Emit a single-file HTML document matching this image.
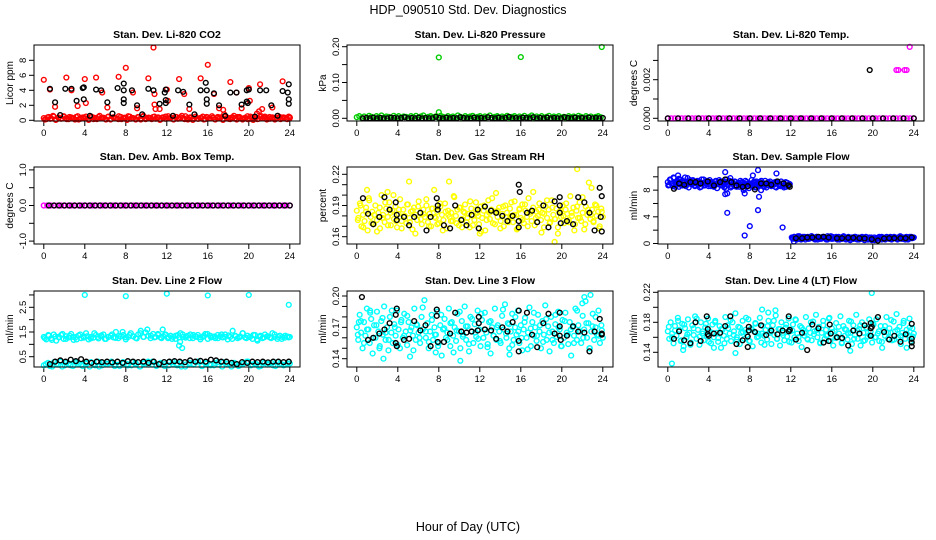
<!DOCTYPE html>
<html><head><meta charset="utf-8"><style>
html,body{margin:0;padding:0;background:#fff}
svg{display:block;font-family:"Liberation Sans",sans-serif}
</style></head><body>
<svg id="chart" width="936" height="540" viewBox="0 0 936 540" xmlns="http://www.w3.org/2000/svg">
<text x="468" y="14" font-size="12.5" text-anchor="middle">HDP_090510  Std. Dev. Diagnostics</text>
<text x="468" y="531" font-size="12.5" text-anchor="middle">Hour of Day (UTC)</text>
</svg>
<script>
// ---------- data ----------
const xTicks=[0,4,8,12,16,20,24];
const co2RedBand=[.3,.15,.45,.25,.5,.1,.35,.2,.55,.3,.15,.4,.25,.45,.1,.35,.3,.5,.2,.4,.15,.3,.45,.25,.35,.1,.5,.2,.4,.3,.15,.45,.25,.35,.55,.2,.3,.1,.4,.25,.5,.15,.35,.3,.45,.2,.4,.1,.3,.5,.25,.35,.15,.45,.2,.4,.3,.55,.1,.35,.25,.45,.2,.3,.5,.15,.4,.25,.35,.1,.45,.3,.2,.5,.35,.15,.4,.25,.45,.3,.1,.35,.55,.2,.4,.3,.15,.45,.25,.5,.35,.2,.4,.1,.3,.45,.25,.35,.15,.4];
const co2RedBand2=[.1,.4,.2,.6,.05,.35,.25,.5,.15,.45,.3,.1,.55,.2,.4,.25,.05,.5,.35,.15,.6,.3,.2,.45,.1,.4,.25,.55,.15,.35,.05,.5,.3,.2,.45,.1,.6,.25,.35,.15,.5,.3,.05,.4,.2,.55,.35,.1,.45,.25,.6,.15,.3,.4,.05,.5,.2,.35,.1,.45,.25,.55,.15,.3,.4,.05,.5,.2,.35,.6,.1,.45,.25,.3,.15,.5,.05,.4,.2,.55,.35,.1,.45,.25,.3,.6,.15,.4,.2,.5];
const co2RedHours=[0,0.6,1.1,2.2,2.7,3.3,4.0,4.1,5.1,5.7,6.2,7.3,8.0,8.7,9.1,10.2,10.7,10.8,10.8,10.9,11.3,12.0,12.1,13.2,13.7,14.2,15.3,16.0,16.6,17.1,17.5,17.6,18.2,18.8,19.3,20.0,20.1,21.1,21.3,21.0,20.8,22.3,23.3,24];
const co2RedVals=[5.4,4.1,1.8,5.7,4.0,1.9,5.5,2.3,5.7,3.7,1.7,5.8,7.0,3.7,1.6,5.6,9.7,3.5,2.1,1.5,1.5,4.1,2.6,5.5,3.5,1.5,5.6,7.4,3.5,1.6,1.4,0.8,5.1,3.7,1.6,4.3,2.6,4.8,1.5,1.2,0.9,1.7,5.2,0.3];
const co2BlackHours=[0.6,1.1,1.6,2.1,2.7,3.2,3.8,3.9,3.9,4.5,5.1,5.6,6.2,6.7,7.2,7.8,7.8,7.8,7.8,8.6,9.1,9.6,10.2,10.7,11.3,11.8,11.9,11.9,11.9,12.6,13.1,13.6,14.2,14.7,15.3,15.8,15.9,15.9,15.9,16.6,17.1,17.7,18.2,18.8,19.3,19.8,19.8,19.9,20.0,20.6,21.1,21.7,22.2,22.8,23.3,23.8,23.9,23.9,23.9];
const co2BlackVals=[4.2,2.4,0.7,4.2,4.2,2.6,4.3,2.8,4.4,0.6,4.1,4.0,2.4,0.9,4.3,4.0,4.9,2.8,2.3,4.0,2.0,0.8,4.2,4.0,2.2,3.7,2.7,2.3,4.1,0.6,4.0,3.8,2.1,0.8,4.0,5.0,2.8,2.2,4.0,3.6,2.0,0.6,3.7,3.7,2.1,4.0,2.5,2.3,4.1,0.5,4.0,4.0,2.0,0.6,3.9,3.7,4.8,2.8,2.2];
const presGreenBand=[.003,.006,.001,.005,.002,.007,.004,.001,.006,.003,.008,.002,.005,.004,.001,.007,.003,.006,.002,.005,.004,.001,.006,.003,.007,.002,.005,.008,.001,.004,.006,.003,.005,.002,.007,.004,.001,.006,.003,.005,.002,.008,.004,.001,.006,.003,.005,.007,.002,.004,.006,.001,.005,.003,.008,.002,.004,.006,.001,.005,.003,.007,.002,.004,.006,.001,.005,.003,.007,.002,.004,.008,.001,.005,.003,.006,.002,.004,.007,.001,.005,.003,.006,.002,.004,.001,.006,.003,.005,.002,.007,.004,.001,.006,.003,.005,.002,.004,.006,.003];
const presGreenHours=[8.0,8.0,16.0,23.9];
const presGreenVals=[0.170,0.017,0.171,0.199];
const presBlack=[.000,.001,.000,.002,.000,.001,.000,.000,.002,.001,.000,.001,.003,.000,.001,.000,.002,.000,.001,.000,.000,.004,.001,.000,.002,.000,.001,.000,.003,.001,.000,.000,.002,.000,.001,.000,.003,.001,.000,.002,.000,.001,.004,.000,.001,.000,.002,.001,.000,.003,.000,.001,.000,.002,.000,.001,.000,.000,.003,.001,.000,.002,.000,.001,.000,.002,.000,.001,.000,.001];
const tempMagenta=[0,0,0,0,0,0,0,0,0,0,0,0,0,0,0,0,0,0,0,0,0,0,0,0,0,0,0,0,0,0,0,0,0,0,0,0,0,0,0,0,0,0,0,0,0,0,0,0,0,0,0,0,0,0,0,0,0,0,0,0,0,0,0,0,0,0,0,0,0,0,0,0];
const tempBlack=[0,0,0,0,0,0,0,0,0,0,0,0,0,0,0,0,0,0,0,0,0,0,0,0,0];
const tempMagHours=[22.3,22.5,23.1,23.3,23.6];
const tempMagVals=[0.0025,0.0025,0.0025,0.0025,0.0037];
const tempBlackHours=[19.7];
const tempBlackVals=[0.0025];
const ambMagenta=[0,0,0,0,0,0,0,0,0,0,0,0,0,0,0,0,0,0,0,0,0,0,0,0,0,0,0,0,0,0,0,0,0,0,0,0,0,0,0,0,0,0,0,0,0,0,0,0,0,0,0,0,0,0,0,0,0,0,0,0,0,0,0,0,0,0,0,0,0,0,0,0];
const ambBlack=[0,0,0,0,0,0,0,0,0,0,0,0,0,0,0,0,0,0,0,0,0,0,0,0,0,0,0,0,0,0,0,0,0,0,0,0,0,0,0,0,0,0,0,0,0,0,0,0];
const rhYellow=[.185,.178,.192,.170,.181,.175,.188,.166,.195,.179,.184,.172,.190,.176,.183,.168,.200,.181,.174,.187,.179,.193,.171,.185,.177,.189,.169,.182,.196,.175,.186,.180,.173,.191,.178,.184,.167,.188,.181,.176,.194,.183,.172,.186,.179,.190,.174,.182,.170,.187,.205,.178,.184,.173,.189,.181,.176,.192,.168,.185,.179,.183,.175,.198,.180,.186,.171,.188,.177,.184,.191,.174,.182,.169,.187,.180,.176,.193,.183,.172,.189,.178,.185,.166,.181,.195,.177,.186,.173,.184,.202,.179,.188,.175,.182,.170,.190,.183,.176,.187,.180,.174,.194,.181,.168,.186,.178,.191,.173,.185,.179,.197,.182,.175,.188,.171,.184,.180,.192,.176,.183,.169,.189,.178,.186,.174,.195,.181,.177,.187,.163,.184,.179,.190,.173,.186,.182,.176,.199,.180,.188,.172,.185,.178,.193,.175,.183,.167,.189,.181,.212,.177,.186,.174,.191,.180,.184,.170,.187,.179];
const rhYellow2=[.176,.190,.169,.184,.197,.173,.181,.165,.188,.178,.193,.171,.183,.200,.175,.186,.168,.180,.191,.174,.185,.163,.189,.177,.182,.196,.170,.187,.179,.172,.192,.166,.184,.181,.175,.199,.173,.188,.169,.183,.178,.194,.171,.186,.180,.165,.190,.176,.183,.197,.172,.185,.168,.189,.179,.174,.193,.181,.167,.187,.176,.191,.170,.184,.203,.178,.186,.164,.182,.195,.173,.188,.177,.169,.185,.180,.192,.174,.183,.166,.189,.178,.198,.172,.186,.181,.175,.190,.168,.184];
const rhYellowHours=[1.0,3.0,5.1,9.0,19.3,21.5,22.9,12.0];
const rhYellowVals=[.205,.203,.213,.213,.155,.225,.207,.163];
const rhBlackHours=[0.6,1.1,1.6,2.2,2.7,3.2,3.8,3.9,3.9,4.6,5.1,5.6,6.2,6.8,7.2,7.8,7.9,7.9,8.5,9.1,9.6,10.2,10.7,11.2,11.8,11.9,12.5,13.1,13.6,14.2,14.7,15.2,15.8,15.9,15.8,15.8,16.6,17.1,17.6,18.2,18.7,19.3,19.8,19.8,19.8,19.9,20.5,21.1,21.6,22.2,22.7,23.2,23.7,23.9,23.8,23.9];
const rhBlackVals=[.197,.182,.172,.179,.198,.186,.193,.181,.176,.179,.171,.179,.183,.166,.179,.197,.190,.186,.171,.168,.190,.176,.171,.181,.186,.168,.189,.185,.183,.180,.175,.180,.210,.203,.175,.169,.183,.185,.174,.190,.169,.194,.198,.190,.183,.173,.175,.172,.198,.193,.183,.166,.207,.199,.179,.165];
const flowBlueA=[9.2,8.8,9.5,9.0,8.6,9.8,9.1,8.9,9.4,8.5,9.6,9.0,8.7,9.3,9.9,8.8,9.2,8.4,9.5,9.1,8.9,9.3,8.6,9.0,9.4,8.8,9.2,8.5,9.1,9.6,8.7,9.0,9.3,8.9,9.5,8.6,9.2,8.8,9.0,9.4,8.3,9.1,8.9,9.3,8.7,9.2,8.5,9.0,9.6,8.8,9.1,8.4,9.3,8.9,8.6,9.2,8.7,9.0,8.5,9.4,8.8,9.1,8.3,8.9,9.2,8.6,9.0,8.7,9.5,8.8,9.1,8.4,9.3,8.9,8.6,9.2,8.8,9.0,8.5,9.4,8.7,9.1,8.9,9.3,8.6,9.0,8.8,9.2,8.4,9.1,8.9,8.7,9.3,8.6,9.0,8.8,8.5,9.1,8.7,8.9];
const flowBlueA2=[8.7,9.6,9.0,9.9,8.5,9.3,9.7,8.8,9.4,9.1,8.6,9.8,9.2,8.9,9.5,8.7,9.3,9.0,8.4,9.6,9.1,8.8,9.4,8.6,9.2,9.0,8.5,9.3,8.9,9.5,8.7,9.1,8.4,9.2,8.8,9.4,8.6,9.0,9.3,8.5,9.1,8.8,9.2,8.6,9.4,8.9,8.3,9.0,8.7,9.3,8.5,9.1,8.8,9.4,8.6,9.0,8.4,9.2,8.9,8.7,9.1,8.5,9.3,8.8,8.6,9.0,8.4,9.2,8.7,8.9];
const flowBlueB=[.9,.7,1.0,.8,.6,1.1,.8,.9,.7,1.0,.8,.6,.9,1.0,.7,.8,1.1,.9,.7,.8,1.0,.6,.9,.8,.7,1.0,.9,.8,.6,1.1,.8,.9,.7,1.0,.8,.9,.7,.6,1.0,.8,.9,.7,1.1,.8,.6,.9,1.0,.7,.8,.9,.7,1.0,.8,.6,.9,.8,.7,1.0,.9,.5,.8,.7,.6,.9,.8,.5,.7,.9,.6,.8,.7,1.0,.8,.6,.9,.7,.8,1.0,.9,.7,.8,.6,.9,1.0,.8,.7,.9,.8,1.1,.7,.8,.9,.6,1.0,.8,.7,.9,1.0,.8,.9];
const flowBlueB2=[.8,1.0,.7,.9,1.1,.6,.8,1.0,.9,.7,.8,1.1,.9,.6,1.0,.8,.7,.9,1.0,.8,.6,.9,1.1,.7,.8,1.0,.9,.6,.8,1.0,.7,.9,.8,.5,.9,.7,1.0,.8,.6,.9,.7,.8,1.0,.6,.8,.9,.7,.5,.8,.9,.7,1.0,.8,.6,.9,.8,1.0,.7,.9,.8,.6,.9,1.0,.7,.8,.9,.6,1.0,.8,.9];
const flowBlueHours=[5.6,5.7,5.8,5.8,6.1,7.5,8.0,8.3,8.8,8.8,8.9,9.1,10.6,11.2,7.4,7.5,5.6,1.0,12.3];
const flowBlueVals=[10.7,8.2,7.5,4.6,9.8,1.2,2.6,10.2,11.0,5.0,7.0,8.0,10.5,2.4,8.0,7.5,7.4,10.2,0.3];
const flowBlackHours=[0.6,1.1,1.6,2.2,2.7,3.2,3.9,4.5,5.1,5.6,6.2,6.7,7.3,7.8,8.5,9.1,9.6,10.1,10.7,11.3,11.8,11.9,12.5,13.1,13.6,14.1,14.7,15.2,15.7,16.5,17.0,17.6,18.1,18.7,19.2,19.9,20.5,21.1,21.6,22.1,22.7,23.2,23.8];
const flowBlackVals=[8.2,9.0,8.8,9.2,9.2,9.0,9.3,8.7,9.2,9.6,9.2,8.7,8.5,8.6,8.1,9.0,9.0,8.8,9.3,9.0,8.7,8.5,0.8,0.8,0.9,0.9,1.0,1.0,0.9,0.8,0.8,0.85,0.85,0.8,0.75,0.65,0.45,0.75,0.8,0.8,0.8,0.8,0.9];
const l2CyanTop=[1.3,1.2,1.35,1.25,1.4,1.15,1.3,1.38,1.22,1.33,1.28,1.42,1.18,1.3,1.36,1.25,1.32,1.45,1.2,1.3,1.27,1.38,1.24,1.33,1.4,1.22,1.3,1.35,1.28,1.5,1.25,1.32,1.38,1.2,1.3,1.45,1.33,1.26,1.4,1.55,1.3,1.48,1.35,1.25,1.42,1.3,1.38,1.28,1.33,1.4,1.25,1.35,1.3,1.22,1.38,1.45,1.3,1.27,1.35,1.4,1.25,1.32,1.38,1.28,1.3,1.42,1.22,1.35,1.3,1.25,1.38,1.33,1.28,1.4,1.2,1.3,1.55,1.35,1.25,1.32,1.45,1.28,1.35,1.3,1.22,1.38,1.15,1.3,1.25,1.4,1.33,1.28,1.45,1.3,1.22,1.35,1.3,1.27,1.32,1.3];
const l2CyanTop2=[1.25,1.38,1.18,1.32,1.28,1.42,1.22,1.35,1.3,1.2,1.4,1.27,1.33,1.24,1.45,1.3,1.36,1.22,1.3,1.4,1.26,1.34,1.5,1.28,1.38,1.32,1.24,1.45,1.3,1.6,1.35,1.28,1.42,1.25,1.38,1.3,1.22,1.35,1.28,1.4,1.32,1.25,1.38,1.3,1.2,1.35,1.42,1.28,1.32,1.25,1.4,1.3,1.36,1.22,1.33,1.28,1.45,1.25,1.3,1.38,1.2,1.35,1.28,1.32,1.25,1.4,1.3,1.22,1.35,1.28];
const l2CyanLow=[.15,.25,.1,.2,.3,.15,.22,.12,.28,.18,.25,.1,.2,.3,.15,.22,.25,.12,.18,.28,.2,.15,.25,.1,.22,.3,.18,.12,.25,.2,.15,.28,.22,.1,.18,.25,.2,.3,.12,.22,.15,.25,.18,.28,.2,.1,.22,.15,.25,.3,.18,.2,.12,.25,.22,.15,.28,.2,.18,.22];
const l2CyanLow2=[.2,.12,.28,.18,.1,.25,.15,.3,.2,.12,.22,.28,.15,.1,.25,.2,.3,.18,.12,.22,.15,.28,.2,.1,.25,.18,.3,.15,.22,.12,.28,.2,.15,.25,.1,.22,.18,.3,.12,.25,.2,.15,.28,.1,.22,.18,.25,.12,.2,.3,.15,.22,.1,.28,.18,.25,.12,.2,.15,.22];
const l2CyanHours=[4.0,8.0,12.0,16.0,20.0,23.9,13.2,13.5,13.3,11.6];
const l2CyanVals=[3.0,2.95,3.05,2.98,3.0,2.6,0.95,0.85,1.1,1.6];
const l2Black=[.2,.3,.35,.3,.38,.32,.4,.3,.25,.3,.28,.3,.27,.3,.25,.32,.3,.28,.3,.25,.3,.2,.28,.3,.32,.3,.28,.35,.3,.33,.3,.38,.35,.3,.3,.25,.2,.28,.25,.3,.28,.3,.27,.3,.3,.28,.3];
const l3Cyan=[.170,.158,.182,.165,.150,.175,.162,.188,.168,.155,.178,.145,.172,.160,.185,.166,.152,.176,.163,.190,.158,.170,.148,.180,.165,.155,.173,.162,.186,.168,.150,.177,.160,.183,.166,.153,.175,.142,.170,.162,.188,.158,.172,.165,.155,.180,.168,.196,.160,.174,.150,.166,.182,.158,.170,.163,.185,.155,.172,.143,.168,.178,.160,.165,.188,.152,.175,.162,.170,.157,.183,.166,.150,.176,.163,.190,.158,.171,.147,.180,.166,.155,.173,.161,.186,.168,.152,.177,.160,.184,.165,.154,.175,.145,.170,.162,.188,.158,.172,.166,.155,.181,.168,.192,.160,.174,.150,.166,.183,.158,.170,.163,.186,.155,.172,.148,.168,.179,.160,.165,.189,.152,.175,.162,.170,.157,.182,.166,.150,.176,.163,.191,.158,.171,.147,.180,.166,.155,.173,.161,.185,.168,.152,.177,.160,.184,.165,.154,.175,.143,.170,.162,.188,.158,.172,.166,.155,.181,.168,.195,.160,.174,.150,.166,.183,.158,.170,.163,.186,.155,.172,.160];
const l3Cyan2=[.163,.176,.155,.168,.184,.160,.172,.150,.179,.165,.158,.186,.170,.153,.175,.162,.181,.167,.148,.173,.160,.189,.166,.156,.177,.163,.152,.182,.169,.158,.174,.146,.167,.185,.161,.171,.154,.178,.165,.159,.183,.168,.151,.176,.162,.170,.157,.187,.164,.173,.153,.180,.166,.160,.175,.149,.169,.184,.162,.172,.156,.178,.165,.158,.182,.170,.152,.176,.163,.168,.155,.186,.166,.160,.174,.150,.171,.180,.162,.167];
const l3CyanHours=[2.6,10.1,14.9,22.8,22.2,22.0,7.7,0.2,1.3];
const l3CyanVals=[.140,.138,.144,.201,.199,.193,.146,.175,.186];
const l3BlackHours=[0.5,1.1,1.6,2.2,2.7,3.2,3.8,3.9,3.8,3.9,4.6,5.1,5.6,6.2,6.7,7.2,7.8,7.8,7.9,8.5,9.1,9.6,10.2,10.7,11.2,11.8,11.9,11.9,12.5,13.1,13.6,14.2,14.7,15.2,15.8,15.8,15.8,16.6,17.1,17.6,18.2,18.7,19.3,19.8,19.8,19.8,19.9,20.5,21.1,21.6,22.2,22.7,23.2,23.7,23.9,23.9];
const l3BlackVals=[.199,.158,.160,.164,.168,.174,.182,.188,.155,.152,.158,.159,.176,.167,.172,.152,.187,.181,.156,.156,.164,.184,.166,.165,.166,.167,.180,.174,.168,.167,.159,.170,.166,.175,.186,.157,.147,.184,.163,.151,.174,.183,.164,.184,.171,.162,.158,.162,.171,.166,.165,.147,.166,.178,.164,.163];
const l4Cyan=[.168,.158,.180,.165,.152,.175,.162,.186,.170,.155,.178,.148,.172,.160,.184,.166,.153,.176,.163,.188,.158,.170,.150,.180,.165,.156,.173,.162,.185,.168,.152,.177,.160,.182,.166,.154,.175,.146,.170,.162,.187,.158,.172,.165,.155,.180,.168,.192,.160,.174,.151,.166,.182,.158,.170,.163,.184,.155,.172,.148,.168,.178,.160,.165,.186,.153,.175,.162,.170,.157,.182,.166,.151,.176,.163,.189,.158,.171,.149,.180,.166,.156,.173,.161,.185,.168,.153,.177,.160,.183,.165,.155,.175,.147,.170,.162,.187,.158,.172,.166,.156,.181,.168,.190,.160,.174,.152,.166,.182,.158,.170,.163,.185,.155,.172,.149,.168,.179,.160,.165,.188,.153,.175,.162,.170,.157,.182,.166,.151,.176,.163,.190,.158,.171,.149,.180,.166,.156,.173,.161,.184,.168,.153,.177,.160,.184,.165,.155,.175,.146,.170,.162,.187,.158,.172,.166,.156,.181,.168,.191,.160,.174,.151,.166,.182,.158,.170,.163,.185,.155,.172,.165];
const l4Cyan2=[.174,.160,.169,.182,.156,.177,.164,.150,.172,.185,.161,.168,.178,.154,.166,.180,.159,.171,.152,.176,.183,.163,.157,.173,.167,.186,.155,.170,.179,.161,.165,.150,.175,.168,.182,.158,.171,.163,.177,.154,.169,.184,.160,.173,.166,.157,.180,.164,.170,.153,.176,.162,.186,.167,.159,.174,.152,.171,.165,.181,.158,.169,.176,.155,.172,.163,.178,.160,.168,.154,.175,.166,.183,.157,.170,.162,.179,.165,.173,.161];
const l4CyanHours=[0.4,19.9,9.2,9.8,10.5,1.5,6.6,4.5,17.8,23.3];
const l4CyanVals=[.125,.219,.197,.193,.196,.143,.139,.146,.142,.146];
const l4BlackHours=[0.6,1.1,1.6,2.2,2.7,3.2,3.8,3.9,3.9,4.0,4.5,5.1,5.6,6.1,6.7,7.3,7.8,7.8,7.9,7.9,8.5,9.1,9.6,10.1,10.7,11.2,11.8,11.8,11.9,12.5,13.1,13.6,14.1,14.7,15.2,15.7,15.8,15.9,16.5,17.0,17.6,18.1,18.7,19.2,19.8,19.8,19.8,19.9,20.5,21.1,21.6,22.1,22.7,23.2,23.8,23.8,23.8,23.8];
const l4BlackVals=[.158,.168,.156,.152,.180,.155,.188,.171,.164,.162,.165,.166,.175,.188,.151,.156,.147,.161,.174,.169,.167,.176,.163,.169,.164,.169,.188,.168,.170,.157,.166,.143,.177,.172,.153,.155,.177,.165,.160,.159,.149,.169,.165,.176,.179,.172,.162,.174,.187,.167,.157,.162,.154,.164,.178,.158,.153,.148];
const yTickVals1=[0,2,4,6,8];const yTickLabels1=["0","2","4","6","8"];
const yTickVals2=[0,0.05,0.10,0.15,0.20];const yTickLabels2=["0.00","","0.10","","0.20"];
const yTickVals3=[0,0.001,0.002,0.003];const yTickLabels3=["0.000","","0.002",""];
const yTickVals4=[-1,-0.5,0,0.5,1];const yTickLabels4=["-1.0","","0.0","","1.0"];
const yTickVals5=[0.16,0.17,0.18,0.19,0.20,0.21,0.22];const yTickLabels5=["0.16","","","0.19","","","0.22"];
const yTickVals6=[0,2,4,6,8,10];const yTickLabels6=["0","","4","","8",""];
const yTickVals7=[0.5,1,1.5,2,2.5,3];const yTickLabels7=["0.5","","1.5","","2.5",""];
const yTickVals8=[0.14,0.15,0.16,0.17,0.18,0.19,0.20];const yTickLabels8=["0.14","","","0.17","","","0.20"];
const yTickVals9=[0.14,0.16,0.18,0.20,0.22];const yTickLabels9=["0.14","","0.18","","0.22"];

// ---------- layout ----------
const NS="http://www.w3.org/2000/svg";
const svg=document.getElementById('chart');
const colL=[34,347,658],rowT=[45,167,291],rowB=[121,244,367],BW=266;
const panels=[
 {c:0,r:0,title:"Stan. Dev. Li-820 CO2",yl:"Licor ppm",y0:120.3,v0:0,k:7.5,tv:yTickVals1,tl:yTickLabels1},
 {c:1,r:0,title:"Stan. Dev. Li-820 Pressure",yl:"kPa",y0:118.3,v0:0,k:358,tv:yTickVals2,tl:yTickLabels2},
 {c:2,r:0,title:"Stan. Dev. Li-820 Temp.",yl:"degrees C",y0:118.3,v0:0,k:19300,tv:yTickVals3,tl:yTickLabels3},
 {c:0,r:1,title:"Stan. Dev. Amb. Box Temp.",yl:"degrees C",y0:205.5,v0:0,k:35.6,tv:yTickVals4,tl:yTickLabels4},
 {c:1,r:1,title:"Stan. Dev. Gas Stream RH",yl:"percent",y0:236.7,v0:0.16,k:1040,tv:yTickVals5,tl:yTickLabels5},
 {c:2,r:1,title:"Stan. Dev. Sample Flow",yl:"ml/min",y0:243.5,v0:0,k:6.67,tv:yTickVals6,tl:yTickLabels6},
 {c:0,r:2,title:"Stan. Dev. Line 2 Flow",yl:"ml/min",y0:356.7,v0:0.5,k:24.7,tv:yTickVals7,tl:yTickLabels7},
 {c:1,r:2,title:"Stan. Dev. Line 3 Flow",yl:"ml/min",y0:358.7,v0:0.14,k:1045,tv:yTickVals8,tl:yTickLabels8},
 {c:2,r:2,title:"Stan. Dev. Line 4 (LT) Flow",yl:"ml/min",y0:352.3,v0:0.14,k:750,tv:yTickVals9,tl:yTickLabels9}
];
function xs(p,h){return colL[p.c]+9.8+h*10.25;}
function ys(p,v){return p.y0-(v-p.v0)*p.k;}
function mk(tag,attrs,parent){const e=document.createElementNS(NS,tag);for(const a in attrs)e.setAttribute(a,attrs[a]);(parent||svg).appendChild(e);return e;}

const groups=[];
panels.forEach((p,i)=>{
 const g=mk('g',{});
 
 
 groups.push(g);
 const L=colL[p.c],T=rowT[p.r],B=rowB[p.r];
 const t=mk('text',{x:L+BW/2,y:T-7,'font-size':'10.5','font-weight':'bold','text-anchor':'middle'},g);
 t.textContent=p.title;
 
 
 const yl=mk('text',{x:0,y:0,'font-size':'10','text-anchor':'middle',transform:`translate(${L-21},${(T+B)/2}) rotate(-90)`},g);
 yl.textContent=p.yl;
 
 
 p.tv.forEach((v,j)=>{
  const y=ys(p,v);
  mk('line',{x1:L-5,x2:L,y1:y,y2:y,stroke:'#000','stroke-width':1},g);
  if(p.tl[j]){const tt=mk('text',{x:0,y:0,'font-size':'9.5','text-anchor':'middle',transform:`translate(${L-8},${y}) rotate(-90)`},g);tt.textContent=p.tl[j];
   
   }
 });
 xTicks.forEach(h=>{
  const x=xs(p,h);
  mk('line',{x1:x,x2:x,y1:B,y2:B+5,stroke:'#000','stroke-width':1},g);
  const tt=mk('text',{x:x,y:B+15,'font-size':'9.5','text-anchor':'middle'},g);tt.textContent=h;
  
  
 });
});
function pts(pi,hours,vals,color){
 const p=panels[pi],g=groups[pi];
 vals.forEach((v,i)=>{
  const c=mk('circle',{cx:xs(p,hours[i]),cy:ys(p,v),r:2.4,fill:'none',stroke:color,'stroke-width':1.4},g);
  
  
 });
}
function spread(vals,h0,h1){return vals.map((v,i)=>h0+(h1-h0)*i/(vals.length-1));}
const RED='#ff0000',BLK='#000',GRN='#00cc00',MAG='#ff00ff',YEL='#ffff00',BLU='#0000ff',CYN='#00ffff';
pts(0,spread(co2RedBand,0,24),co2RedBand,RED);
pts(0,spread(co2RedBand2,0.1,23.9),co2RedBand2,RED);
pts(0,co2RedHours,co2RedVals,RED);
pts(0,co2BlackHours,co2BlackVals,BLK);
pts(1,spread(presGreenBand,0,23.8),presGreenBand,GRN);
pts(1,presGreenHours,presGreenVals,GRN);
pts(1,spread(presBlack,0.6,24),presBlack,BLK);
pts(2,spread(tempMagenta,0,24),tempMagenta,MAG);
pts(2,spread(tempBlack,0,24),tempBlack,BLK);
pts(2,tempMagHours,tempMagVals,MAG);
pts(2,tempBlackHours,tempBlackVals,BLK);
pts(3,spread(ambMagenta,0,24),ambMagenta,MAG);
pts(3,spread(ambBlack,0.5,24),ambBlack,BLK);
pts(4,spread(rhYellow,0,24),rhYellow,YEL);
pts(4,spread(rhYellow2,0.1,23.9),rhYellow2,YEL);
pts(4,rhYellowHours,rhYellowVals,YEL);
pts(4,rhBlackHours,rhBlackVals,BLK);
pts(5,spread(flowBlueA,0,11.9),flowBlueA,BLU);
pts(5,spread(flowBlueA2,0.05,11.85),flowBlueA2,BLU);
pts(5,spread(flowBlueB,12.1,24),flowBlueB,BLU);
pts(5,spread(flowBlueB2,12.15,23.95),flowBlueB2,BLU);
pts(5,flowBlueHours,flowBlueVals,BLU);
pts(5,flowBlackHours,flowBlackVals,BLK);
pts(6,spread(l2CyanTop,0,24),l2CyanTop,CYN);
pts(6,spread(l2CyanTop2,0.1,23.9),l2CyanTop2,CYN);
pts(6,spread(l2CyanLow,0,24),l2CyanLow,CYN);
pts(6,spread(l2CyanLow2,0.2,23.8),l2CyanLow2,CYN);
pts(6,l2CyanHours,l2CyanVals,CYN);
pts(6,spread(l2Black,0.6,23.9),l2Black,BLK);
pts(7,spread(l3Cyan,0,24),l3Cyan,CYN);
pts(7,spread(l3Cyan2,0.1,23.9),l3Cyan2,CYN);
pts(7,l3CyanHours,l3CyanVals,CYN);
pts(7,l3BlackHours,l3BlackVals,BLK);
pts(8,spread(l4Cyan,0,24),l4Cyan,CYN);
pts(8,spread(l4Cyan2,0.1,23.9),l4Cyan2,CYN);
pts(8,l4CyanHours,l4CyanVals,CYN);
pts(8,l4BlackHours,l4BlackVals,BLK);
panels.forEach((p,i)=>{
 const L=colL[p.c],T=rowT[p.r],B=rowB[p.r];
 const r=mk('rect',{x:L,y:T,width:BW,height:B-T,fill:'none',stroke:'#000','stroke-width':1},groups[i]);
 
 
});
</script>
</body></html>
